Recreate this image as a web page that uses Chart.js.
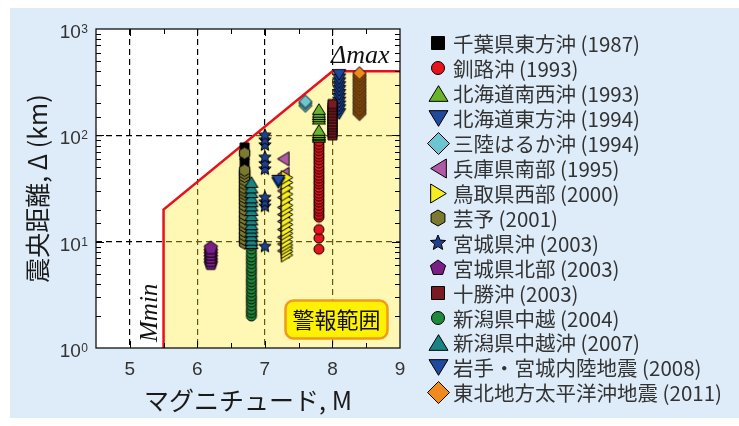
<!DOCTYPE html>
<html>
<head>
<meta charset="utf-8">
<script src="https://cdn.jsdelivr.net/npm/chart.js@4.4.1/dist/chart.umd.min.js"></script>
<style>
  html, body { margin: 0; padding: 0; background: #fff; }
  canvas { display: block; }
</style>
</head>
<body>
<canvas id="chart" width="739" height="426"></canvas>
<script>
// earthquakes, the magnitude they are plotted at, and epicentral distances (km)
var eventLabels = [
  '千葉県東方沖 (1987)', '釧路沖 (1993)', '北海道南西沖 (1993)', '北海道東方沖 (1994)',
  '三陸はるか沖 (1994)', '兵庫県南部 (1995)', '鳥取県西部 (2000)', '芸予 (2001)',
  '宮城県沖 (2003)', '宮城県北部 (2003)', '十勝沖 (2003)', '新潟県中越 (2004)',
  '新潟県中越沖 (2007)', '岩手・宮城内陸地震 (2008)', '東北地方太平洋沖地震 (2011)'
];
var magnitudes = [6.7, 7.8, 7.8, 8.1, 7.6, 7.3, 7.3, 6.7, 7.0, 6.2, 8.0, 6.8, 6.8, 7.2, 8.4];

var chibaDist = [10, 11, 12.5, 14, 16, 18, 21, 24, 28, 33, 38, 45, 55, 65, 77];
var kushiroDist = [8.5, 10.8, 13, 17, 18, 19.3, 20.5, 22, 23.5, 25, 26.8, 28.5, 30.5, 32.5, 35, 37,
  39.5, 42, 45, 48, 51, 55, 59, 63, 67, 72, 77, 82, 88];
var hokkaidoSwDist = [93, 96, 99, 103, 108, 138, 145, 152, 160, 170];
var hokkaidoEDist = [165, 180, 195, 212, 230, 250, 272, 296, 322, 350, 385];
var sanrikuDist = [190, 200, 208];
var hyogoDist = [8.2, 9.5, 11, 13, 15.5, 18, 21, 26, 30, 43, 60];
var tottoriDist = [7.5, 8.1, 8.7, 9.3, 10, 11, 12, 13, 14.5, 16, 18, 20, 22, 25, 28, 32, 36, 40];
var geiyoDist = [9.7, 10.5, 11.5, 12.5, 13.9, 15, 16.5, 18, 20, 22, 24, 26, 28, 30, 32, 35, 38, 41, 44, 47, 68];
var miyagiOkiDist = [9, 21.5, 23.5, 26, 48, 54, 62, 81, 90, 100];
var miyagiNorthDist = [6.2, 6.6, 7.1, 7.6, 8.1, 8.7];
var tokachiDist = [100, 106, 113, 120, 127, 135, 144, 153, 163, 174, 185, 197];
var chuetsuDist = [2.0, 2.15, 2.3, 2.5, 2.7, 2.9, 3.1, 3.35, 3.6, 3.9, 4.2, 4.5, 4.9, 5.3, 5.7,
  6.2, 6.7, 7.2, 7.8, 8.5, 9.2, 10, 11];
var chuetsuOkiDist = [9.3, 10, 11, 12, 13, 14, 15.5, 17, 19, 21, 23, 25, 28, 31, 35];
var iwateDist = [37, 39];
var tohokuDist = [158, 163, 168, 173, 178, 183, 189, 195, 201, 207, 213, 220, 227, 234, 241,
  249, 257, 265, 273, 282, 291, 300, 310, 320, 330, 340, 351, 362, 373, 385];

var distances = [chibaDist, kushiroDist, hokkaidoSwDist, hokkaidoEDist, sanrikuDist, hyogoDist,
  tottoriDist, geiyoDist, miyagiOkiDist, miyagiNorthDist, tokachiDist, chuetsuDist,
  chuetsuOkiDist, iwateDist, tohokuDist];

// warning range boundary: Mmin at 5.5, then up to Δmax = 400 km at M8
var boundaryM = [5.5, 5.5, 8, 9];
var boundaryDist = [1, 20, 400, 400];

var xTickLabels = [5, 6, 7, 8, 9];
var yPowers = [0, 1, 2, 3];

// marker look per event
var markerShapes = ['square', 'circle', 'up', 'down', 'diamond', 'left', 'right', 'hexagon',
  'star', 'pentagon', 'square', 'circle', 'up', 'down', 'diamond'];
var markerColors = ['#000000', '#e8141c', '#6ab42a', '#1f4a9e', '#6cc6d2', '#b25aa6', '#f7ee22',
  '#7c7a30', '#1f3f8f', '#7b1f88', '#7a1b24', '#1f8a3c', '#1a8484', '#1f4aa0', '#f08a1e'];

var plotSize = { square: 4.5, circle: 5, up: 6.5, down: 6.5, left: 7, right: 7,
  diamond: 6.5, star: 6.5, pentagon: 7, hexagon: 6 };
var legendSize = { square: 6.5, circle: 6.5, up: 9.5, down: 9.5, left: 9.5, right: 9.5,
  diamond: 11, star: 8, pentagon: 8, hexagon: 8 };

// draws one marker into a small canvas; triangles sit on their centroid
// in the plot and on their bounding box in the legend
function makeMarker(shape, r, color, centroid) {
  var pad = 2;
  var s = Math.ceil(r * 2.4 + pad * 2);
  var c = document.createElement('canvas');
  c.width = s;
  c.height = s;
  var g = c.getContext('2d');
  var cx = s / 2, cy = s / 2;
  var H = r * 1.65;              // triangle height
  var tip = centroid ? H * 2 / 3 : H / 2;
  var base = H - tip;
  g.beginPath();
  if (shape === 'circle') {
    g.arc(cx, cy, r, 0, Math.PI * 2);
  } else if (shape === 'square') {
    g.rect(cx - r, cy - r, r * 2, r * 2);
  } else if (shape === 'up') {
    g.moveTo(cx, cy - tip); g.lineTo(cx + r, cy + base); g.lineTo(cx - r, cy + base);
  } else if (shape === 'down') {
    g.moveTo(cx, cy + tip); g.lineTo(cx + r, cy - base); g.lineTo(cx - r, cy - base);
  } else if (shape === 'left') {
    g.moveTo(cx - tip, cy); g.lineTo(cx + base, cy - r); g.lineTo(cx + base, cy + r);
  } else if (shape === 'right') {
    g.moveTo(cx + tip, cy); g.lineTo(cx - base, cy - r); g.lineTo(cx - base, cy + r);
  } else if (shape === 'star') {
    for (var i = 0; i < 10; i++) {
      var rr = i % 2 ? r * 0.45 : r;
      var a = -Math.PI / 2 + i * Math.PI / 5;
      g.lineTo(cx + rr * Math.cos(a), cy + rr * Math.sin(a));
    }
  } else {
    var n = shape === 'diamond' ? 4 : shape === 'pentagon' ? 5 : 6;
    for (var k = 0; k < n; k++) {
      var b = -Math.PI / 2 + k * 2 * Math.PI / n;
      g.lineTo(cx + r * Math.cos(b), cy + r * Math.sin(b));
    }
  }
  g.closePath();
  g.fillStyle = color;
  g.fill();
  g.lineWidth = 1;
  g.strokeStyle = '#000';
  g.stroke();
  return c;
}

var plotMarkers = markerShapes.map(function (s, i) { return makeMarker(s, plotSize[s], markerColors[i], true); });
var legendMarkers = markerShapes.map(function (s, i) { return makeMarker(s, legendSize[s], markerColors[i], false); });

// later events are drawn on top of earlier ones
var datasets = eventLabels.map(function (label, i) {
  return {
    label: label,
    data: distances[i].map(function (d) { return { x: magnitudes[i], y: d }; }),
    pointStyle: plotMarkers[i],
    order: eventLabels.length - i
  };
});

datasets.push({
  type: 'line',
  label: 'boundary',
  data: boundaryM.map(function (m, i) { return { x: m, y: boundaryDist[i] }; }),
  borderColor: '#e8101e',
  borderWidth: 2.5,
  backgroundColor: 'rgba(255, 236, 60, 0.38)',
  fill: 'start',
  pointRadius: 0,
  tension: 0,
  order: 100
});

var SANS = '"Liberation Sans", Arial, sans-serif';
var JP = '"Noto Sans CJK JP", sans-serif';
var SERIF = '"Liberation Serif", "Times New Roman", serif';

function roundRect(ctx, x, y, w, h, r) {
  ctx.beginPath();
  ctx.moveTo(x + r, y);
  ctx.arcTo(x + w, y, x + w, y + h, r);
  ctx.arcTo(x + w, y + h, x, y + h, r);
  ctx.arcTo(x, y + h, x, y, r);
  ctx.arcTo(x, y, x + w, y, r);
  ctx.closePath();
}

var decorations = {
  id: 'decorations',
  beforeDraw: function (chart) {
    var ctx = chart.ctx, a = chart.chartArea;
    ctx.save();
    ctx.fillStyle = '#deebf8';
    ctx.fillRect(10, 8, chart.width - 10, 410);
    ctx.fillStyle = '#ffffff';
    ctx.fillRect(a.left, a.top, a.right - a.left, a.bottom - a.top);
    ctx.restore();
  },
  afterDatasetsDraw: function (chart) {
    var ctx = chart.ctx, a = chart.chartArea;
    var xs = chart.scales.x, ys = chart.scales.y;
    ctx.save();

    // inward tick marks on all four sides
    ctx.strokeStyle = '#000';
    ctx.lineWidth = 1;
    ctx.beginPath();
    ys.ticks.forEach(function (t) {
      if (t.value <= 1 || t.value >= 1000) return;
      var major = Math.abs(Math.log10(t.value) % 1) < 1e-9;
      var len = major ? 8 : 5;
      var y = Math.round(ys.getPixelForValue(t.value)) + 0.5;
      ctx.moveTo(a.left, y); ctx.lineTo(a.left + len, y);
      ctx.moveTo(a.right, y); ctx.lineTo(a.right - len, y);
    });
    xs.ticks.forEach(function (t) {
      if (t.value <= 4.5 || t.value >= 9) return;
      var len = Number.isInteger(t.value) ? 7 : 5;
      var x = Math.round(xs.getPixelForValue(t.value)) + 0.5;
      ctx.moveTo(x, a.bottom); ctx.lineTo(x, a.bottom - len);
      ctx.moveTo(x, a.top); ctx.lineTo(x, a.top + len);
    });
    ctx.stroke();

    // plot frame
    ctx.lineWidth = 1.3;
    ctx.strokeStyle = '#111';
    ctx.strokeRect(a.left, a.top, a.right - a.left, a.bottom - a.top);

    // y tick labels as powers of ten
    ctx.fillStyle = '#333';
    ctx.textBaseline = 'alphabetic';
    ctx.textAlign = 'right';
    yPowers.forEach(function (p) {
      var y = ys.getPixelForValue(Math.pow(10, p));
      ctx.font = '12px ' + SANS;
      var sup = String(p);
      var supW = ctx.measureText(sup).width;
      ctx.fillText(sup, 88, y + 4);
      ctx.font = '19px ' + SANS;
      ctx.fillText('10', 88 - supW - 0.5, y + 9);
    });

    // Δmax and Mmin labels
    ctx.fillStyle = '#111';
    ctx.textAlign = 'left';
    ctx.font = 'italic 26px ' + SERIF;
    ctx.fillText('Δmax', 331, 63);
    ctx.save();
    ctx.translate(157, 342);
    ctx.rotate(-Math.PI / 2);
    ctx.font = 'italic 25px ' + SERIF;
    ctx.fillText('Mmin', 0, 0);
    ctx.restore();

    // warning range badge
    roundRect(ctx, 285.5, 300.5, 102, 38, 8);
    ctx.fillStyle = '#fff200';
    ctx.fill();
    ctx.lineWidth = 2.5;
    ctx.strokeStyle = '#f39a1a';
    ctx.stroke();
    ctx.fillStyle = '#111';
    ctx.textAlign = 'center';
    ctx.textBaseline = 'middle';
    ctx.font = '22px ' + JP;
    ctx.fillText('警報範囲', 336.5, 320);

    // legend
    ctx.textAlign = 'left';
    ctx.textBaseline = 'middle';
    ctx.font = '20.5px ' + JP;
    ctx.fillStyle = '#333';
    eventLabels.forEach(function (label, i) {
      var y = 43.3 + i * 24.95;
      var m = legendMarkers[i];
      ctx.drawImage(m, Math.round(438 - m.width / 2), Math.round(y - m.height / 2));
      ctx.fillText(label, 453, y + 1);
    });

    ctx.restore();
  }
};

new Chart(document.getElementById('chart'), {
  type: 'scatter',
  data: { datasets: datasets },
  options: {
    responsive: false,
    animation: false,
    events: [],
    layout: { padding: { left: 0, right: 339, top: 29, bottom: 0 } },
    plugins: { legend: { display: false }, tooltip: { enabled: false } },
    scales: {
      x: {
        type: 'linear',
        min: 4.5,
        max: 9,
        afterFit: function (s) { s.height = 78; },
        ticks: {
          stepSize: 0.5,
          autoSkip: false,
          maxRotation: 0,
          padding: 10,
          color: '#333',
          font: { family: SANS, size: 19 },
          callback: function (v) { return xTickLabels.indexOf(v) >= 0 ? String(v) : ''; }
        },
        grid: {
          drawTicks: false,
          lineWidth: 1.2,
          color: function (c) {
            var v = c.tick && c.tick.value;
            return (Number.isInteger(v) && v >= 5 && v <= 8) ? '#000' : 'rgba(0,0,0,0)';
          }
        },
        border: { display: false, dash: [6, 4] },
        title: {
          display: true,
          text: 'マグニチュード, M',
          color: '#1a1a1a',
          font: { family: JP, size: 25 },
          padding: { top: 0, bottom: 11 }
        }
      },
      y: {
        type: 'logarithmic',
        min: 1,
        max: 1000,
        afterFit: function (s) { s.width = 96; },
        ticks: { display: false, autoSkip: false },
        grid: {
          drawTicks: false,
          lineWidth: 1.2,
          color: function (c) {
            var v = c.tick && c.tick.value;
            return (v === 10 || v === 100) ? '#000' : 'rgba(0,0,0,0)';
          }
        },
        border: { display: false, dash: [6, 4] },
        title: {
          display: true,
          text: '震央距離, Δ (km)',
          color: '#1a1a1a',
          font: { family: JP, size: 25 },
          padding: { top: 22, bottom: 0 }
        }
      }
    }
  },
  plugins: [decorations]
});
</script>
</body>
</html>
